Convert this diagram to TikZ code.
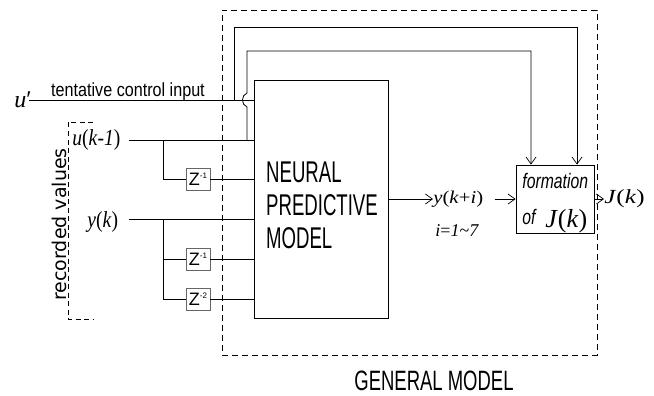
\documentclass[tikz,border=0pt]{standalone}
\usepackage{graphicx}
\usepackage{fontspec}
\setmainfont{Liberation Serif}
\newfontfamily\npmfont[FakeStretch=0.62]{Liberation Sans}
\newfontfamily\gmfont[FakeStretch=0.66]{Liberation Sans}
\newfontfamily\tentfont[FakeStretch=0.85]{Liberation Sans}
\newfontfamily\formfont[FakeStretch=0.75]{Liberation Sans}
\newfontfamily\recfont{DejaVu Sans}
\newfontfamily\zfont{Liberation Sans}
\newfontfamily\serifc[FakeStretch=0.85]{Liberation Serif}
\usetikzlibrary{arrows.meta}
\newcommand{\fs}[1]{\fontsize{#1}{#1}\selectfont}
\newcommand{\zlab}[1]{{\zfont\fs{18}Z}\raisebox{7pt}{\zfont\fs{8}#1}}
\begin{document}
\begin{tikzpicture}[x=1pt,y=-1pt,line width=0.8pt,
  arr/.style={-{Straight Barb[length=7pt,width=10pt,line width=0.7pt]}},
  zbox/.style={draw=black!60,fill=white,minimum width=24pt,minimum height=22pt,inner sep=0pt},
  lbl/.style={inner sep=0pt},
  dsh/.style={line width=0.7pt,dash pattern=on 6pt off 4pt}]
\useasboundingbox (0,0) rectangle (654,396);

% general model frame
\node[draw,dsh,minimum width=375pt,minimum height=345pt,inner sep=0pt] (gm) at (409.5,182.5) {};
\node[lbl,anchor=base] (gmlab) at (434,390) {\gmfont\fs{28}GENERAL MODEL};

% recorded values bracket
\draw[dsh,dash pattern=on 5pt off 3.5pt] (93,122) -| (68,319) -- (93,319);
\node[lbl,anchor=center,rotate=90] (rec) at (59,224.5) {\recfont\fs{19}recorded values};

% blocks
\node[draw,minimum width=134pt,minimum height=238pt,inner sep=0pt] (npm) at (321,199) {};
\node[lbl,align=left,anchor=center,font={\npmfont\fontsize{30}{33}\selectfont}] (npmlab) at (322,205) {NEURAL\\PREDICTIVE\\MODEL};
\node[draw,minimum width=78pt,minimum height=68pt,inner sep=0pt] (form) at (555,199) {};
\node[lbl,anchor=base west] (formlab) at (522,188) {\formfont\itshape\fs{21}formation};
\node[lbl,anchor=base west] (oflab) at (522,224) {\formfont\itshape\fs{21}of};
\node[lbl,anchor=base west] (jin) at (545,227) {\fs{26}\textit{J}(\textit{k})};

\node[zbox] (z1) at (198,179) {\zlab{-1}};
\node[zbox] (z2) at (198,259) {\zlab{-1}};
\node[zbox] (z3) at (198,299) {\zlab{-2}};

% labels
\node[lbl,anchor=base west] (uprime) at (14,107) {\fs{24}\textit{u}′};
\node[lbl,anchor=base] (tent) at (128,96) {\tentfont\fs{19}tentative control input};
\node[lbl,anchor=base west] (uk1) at (72,146) {\serifc\fs{23}\textit{u}(\textit{k}-\textit{1})};
\node[lbl,anchor=base west] (yk) at (87,227) {\serifc\fs{23}\textit{y}(\textit{k})};
\node[lbl,anchor=west] (yki) at (433,199) {\scalebox{1.15}[1]{\fs{18}\textit{y}(\textit{k}+\textit{i})}};
\node[lbl,anchor=base west] (irange) at (435,236) {\fs{18}\textit{i}=\textit{1}\textasciitilde\textit{7}};
\node[lbl,anchor=west] (jout) at (604,199) {\scalebox{1.25}[1]{\fs{20}\textit{J}(\textit{k})}};

% coordinates (free ends / junctions)
\coordinate (uin) at (29,100);
\coordinate (jo) at (234,100);
\coordinate (ji) at (247,140);
\coordinate (uks) at (129,140);
\coordinate (yks) at (129,219);
\coordinate (bu) at (163,140);
\coordinate (by) at (163,219);

% u' line
\draw (uin) -- (npm.west |- uin);
% feedback lines
\draw[arr] (jo) -- (234,27) -| ([xshift=22pt]form.north);
\draw[arr] (ji) -- (247,107) .. controls (241,105) and (241,95) .. (247,93) -- (247,51) -| ([xshift=-24pt]form.north);

% u(k-1) inputs
\draw (uks) -- (npm.west |- uks);
\draw (bu) |- (z1.west);
\draw (z1.east) -- (npm.west |- z1);
% y(k) inputs
\draw (yks) -- (npm.west |- yks);
\draw (by) |- (z3.west);
\draw (by |- z2) -- (z2.west);
\draw (z2.east) -- (npm.west |- z2);
\draw (z3.east) -- (npm.west |- z3);

% outputs
\draw[arr] (npm.east |- yki.west) -- (yki.west);
\draw[arr] ([xshift=11pt]yki.east) -- (form.west);
\draw[arr] (form.east) -- (jout.west);
\end{tikzpicture}
\end{document}
